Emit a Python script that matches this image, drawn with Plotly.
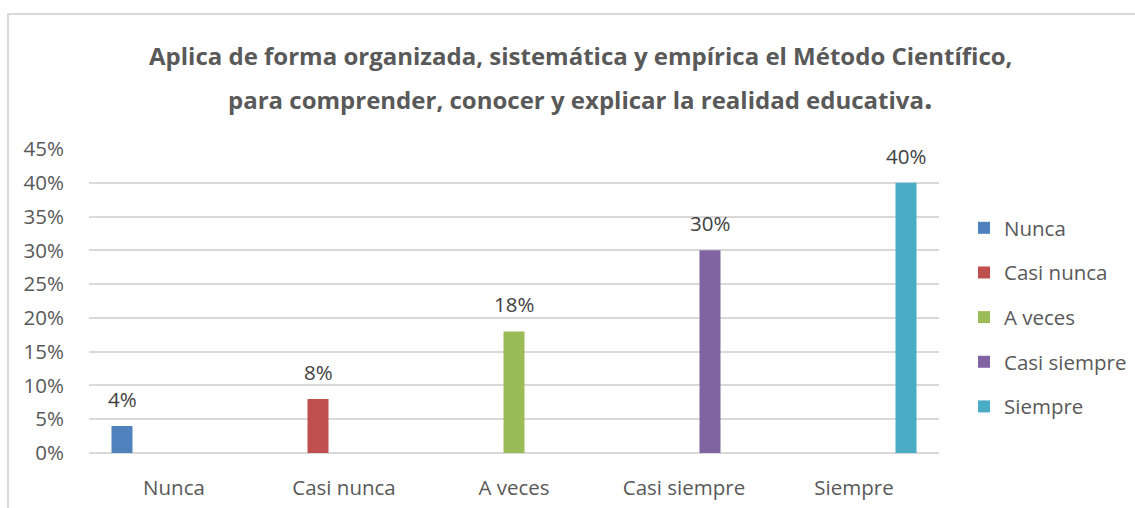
import plotly.graph_objects as go

categories = ["Nunca", "Casi nunca", "A veces", "Casi siempre", "Siempre"]
series_names = ["Nunca", "Casi nunca", "A veces", "Casi siempre", "Siempre"]
values = [0.04, 0.08, 0.18, 0.30, 0.40]
labels = ["4%", "8%", "18%", "30%", "40%"]
colors = ["#4f81bd", "#c0504d", "#9bbb59", "#8064a2", "#4bacc6"]
y_ticks = [0, 0.05, 0.10, 0.15, 0.20, 0.25, 0.30, 0.35, 0.40, 0.45]
y_ticktext = ["0%", "5%", "10%", "15%", "20%", "25%", "30%", "35%", "40%", "45%"]

FONT = "Open Sans"
FS = 20.5
W, H = 1135, 508
L, R, T, B = 89, 196, 149, 55
pw = W - L - R
ph = H - T - B

def px_x(px):
    return (px - L) / pw

def px_y(py):
    return ((H - B) - py) / ph

n = len(series_names)
bar_w = 21 / 170          # bar width as fraction of a category
slot = 26 / 170           # distance between bar slots within a group

fig = go.Figure()
for i, name in enumerate(series_names):
    fig.add_trace(go.Bar(
        name=name,
        x=[categories[i]],
        y=[values[i]],
        width=bar_w,
        offset=(i - (n - 1) / 2) * slot - bar_w / 2,
        marker=dict(color=colors[i], line=dict(width=0)),
        legendgroup=name,
        hoverinfo="skip",
    ))
    fig.add_annotation(
        x=categories[i], y=values[i], xref="x", yref="y",
        text=labels[i], showarrow=False,
        yanchor="bottom", yshift=11, xshift=(i - (n - 1) / 2) * 26,
        font=dict(family=FONT, size=FS, color="#404040"),
    )

fig.add_annotation(
    x=px_x(580), y=px_y(55), xref="paper", yref="paper",
    text="<b>Aplica de forma organizada, sistemática y empírica el Método Científico,</b>",
    showarrow=False, xanchor="center", yanchor="middle",
    font=dict(family=FONT, size=24, color="#595959"),
)
fig.add_annotation(
    x=px_x(580), y=px_y(97), xref="paper", yref="paper",
    text="<b>para comprender, conocer y explicar la realidad educativa<span style='font-size:30px'>.</span></b>",
    showarrow=False, xanchor="center", yanchor="middle",
    font=dict(family=FONT, size=24, color="#595959"),
)

# chart area border (left and top visible)
fig.add_shape(
    type="rect", xref="paper", yref="paper",
    x0=px_x(8), x1=px_x(1200),
    y0=px_y(560), y1=px_y(14),
    line=dict(color="#d9d9d9", width=2), fillcolor="rgba(0,0,0,0)", layer="below",
)

fig.update_layout(
    width=W, height=H,
    margin=dict(l=L, r=R, t=T, b=B, autoexpand=False),
    paper_bgcolor="white", plot_bgcolor="white",
    barmode="group",
    font=dict(family=FONT, size=FS, color="#595959"),
    showlegend=True,
    legend=dict(
        x=px_x(964), xanchor="left",
        y=px_y(208), yanchor="top",
        font=dict(family=FONT, size=FS, color="#595959"),
        tracegroupgap=15, itemwidth=30,
        bgcolor="rgba(0,0,0,0)",
    ),
    xaxis=dict(
        categoryorder="array", categoryarray=categories,
        showgrid=False, showline=False, zeroline=False,
        ticks="outside", ticklen=16, tickcolor="rgba(0,0,0,0)",
        tickfont=dict(family=FONT, size=FS, color="#595959"),
        fixedrange=True,
    ),
    yaxis=dict(
        range=[0, 0.45], tickvals=y_ticks, ticktext=y_ticktext,
        showgrid=True, gridcolor="#d9d9d9", gridwidth=2,
        zeroline=True, zerolinecolor="#d9d9d9", zerolinewidth=2,
        showline=False,
        ticks="outside", ticklen=20, tickcolor="rgba(0,0,0,0)",
        tickfont=dict(family=FONT, size=FS, color="#595959"),
        fixedrange=True,
    ),
)

fig.write_html(
    "out.html",
    config={"displayModeBar": False},
    post_script="document.body.style.margin='0';",
)
